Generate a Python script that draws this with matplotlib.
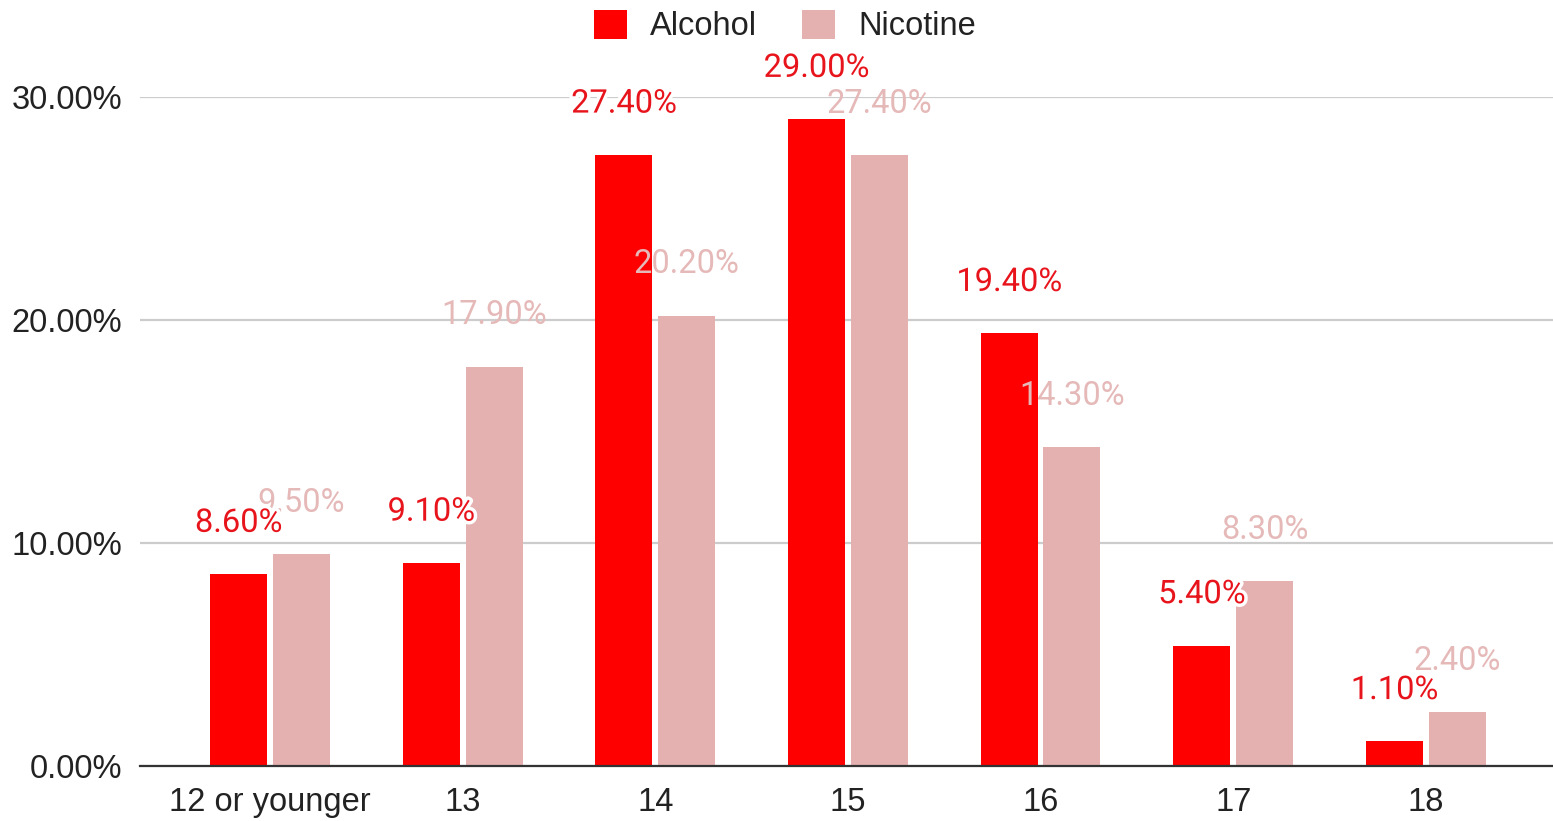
import matplotlib
matplotlib.use("Agg")
import matplotlib.pyplot as plt
import matplotlib.patheffects as pe
from matplotlib.patches import Patch
import numpy as np

categories = ["12 or younger", "13", "14", "15", "16", "17", "18"]
alcohol = [8.6, 9.1, 27.4, 29.0, 19.4, 5.4, 1.1]
nicotine = [9.5, 17.9, 20.2, 27.4, 14.3, 8.3, 2.4]
y_ticks = [0, 10, 20, 30]

RED = "#ff0000"
PINK = "#e4b0b0"
RED_LABEL = "#e8141c"
PINK_LABEL = "#e6b9b9"
TEXT = "#222222"
FS = 23.5

W, H = 1553, 821
fig = plt.figure(figsize=(W / 100, H / 100), dpi=100)
ax = fig.add_axes([140 / W, 55 / H, (W - 140) / W, (766 - 97) / H])

x = np.arange(len(categories))
bw = 0.296
off = 0.163
bars_a = ax.bar(x - off, alcohol, bw, color=RED, zorder=2)
bars_n = ax.bar(x + off, nicotine, bw, color=PINK, zorder=2)

ax.set_xlim(-0.675, 6.66)
ax.set_ylim(0, 30)
ax.set_yticks(y_ticks)
ax.set_yticklabels([f"{v:.2f}%" for v in y_ticks], fontfamily="Liberation Sans",
                   fontsize=FS, color=TEXT)
ax.set_xticks(x)
ax.set_xticklabels(categories, fontfamily="Liberation Sans", fontsize=FS, color=TEXT)
ax.tick_params(axis="both", length=0)
ax.tick_params(axis="y", pad=13)
ax.tick_params(axis="x", pad=15)

for s in ["top", "right", "left"]:
    ax.spines[s].set_visible(False)
ax.spines["bottom"].set_color("#333333")
ax.spines["bottom"].set_linewidth(1.6)
ax.spines["bottom"].set_zorder(3)
ax.yaxis.grid(True, color="#cccccc", linewidth=1.6, zorder=0)
ax.set_axisbelow(True)

# value labels: nicotine plain, alcohol with a white halo drawn on top
for xi, v in zip(x + off, nicotine):
    ax.annotate(f"{v:.2f}%", (xi, v), xytext=(0, 37), textcoords="offset points",
                ha="center", va="center", fontsize=FS, fontfamily="Roboto",
                color=PINK_LABEL, zorder=4, annotation_clip=False)
for xi, v in zip(x - off, alcohol):
    ax.annotate(f"{v:.2f}%", (xi, v), xytext=(0, 37), textcoords="offset points",
                ha="center", va="center", fontsize=FS, fontfamily="Roboto",
                color=RED_LABEL, zorder=5, annotation_clip=False,
                path_effects=[pe.withStroke(linewidth=5, foreground="white")])

handles = [Patch(facecolor=RED, label="Alcohol"), Patch(facecolor=PINK, label="Nicotine")]
fig.legend(handles=handles, loc="center", bbox_to_anchor=(785 / W, 1 - 26 / H), ncol=2,
           frameon=False, prop={"family": "Liberation Sans", "size": FS},
           labelcolor=TEXT, handlelength=1.0, handleheight=1.0, handletextpad=0.7,
           columnspacing=1.4)

fig.savefig("out.png", dpi=100, facecolor="white")
